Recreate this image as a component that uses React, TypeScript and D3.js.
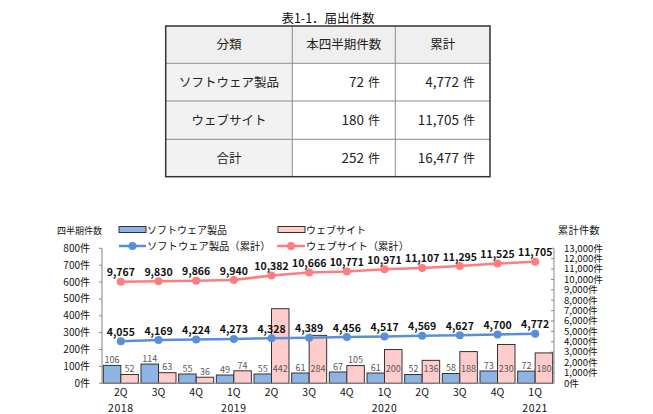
import React from 'react';
import * as d3 from 'd3';

// table data
const tableHeaders = ['分類', '本四半期件数', '累計'];
const tableRows = ['ソフトウェア製品', 'ウェブサイト', '合計'];
const tableQuarter = ['72', '180', '252'];
const tableTotal = ['4,772', '11,705', '16,477'];

// chart data
const quarters = ['2Q', '3Q', '4Q', '1Q', '2Q', '3Q', '4Q', '1Q', '2Q', '3Q', '4Q', '1Q'];
const years = ['2018', '', '', '2019', '', '', '', '2020', '', '', '', '2021'];
const softwareQ = [106, 114, 55, 49, 55, 61, 67, 61, 52, 58, 73, 72];
const websiteQ = [52, 63, 36, 74, 442, 284, 105, 200, 136, 188, 230, 180];
const softwareCum = [4055, 4169, 4224, 4273, 4328, 4389, 4456, 4517, 4569, 4627, 4700, 4772];
const websiteCum = [9767, 9830, 9866, 9940, 10382, 10666, 10771, 10971, 11107, 11295, 11525, 11705];
const leftTicks = [0, 100, 200, 300, 400, 500, 600, 700, 800];
const rightTicks = d3.range(0, 13001, 1000);

const JP = '"Noto Sans CJK JP", "Noto Sans", sans-serif';
const BLUE_BAR = '#8EB4E3';
const PINK_BAR = '#FFCCCC';
const BLUE_LINE = '#5A8FD8';
const PINK_LINE = '#FF7C80';

const fmt = d3.format(',');

const App: React.FC = () => {
  const width = 653;
  const height = 414;
  const plot = { left: 102, right: 554, top: 248.3, bottom: 383.3 };

  const idx = quarters.map((_, i) => String(i));
  const x = d3.scaleBand().domain(idx).range([plot.left, plot.right]).padding(0);
  const xSub = d3.scaleBand().domain(['sw', 'web']).range([0, x.bandwidth()]).paddingInner(0).paddingOuter(0.076);
  const yL = d3.scaleLinear().domain([0, 800]).range([plot.bottom, plot.top]);
  const yR = d3.scaleLinear().domain([0, 13000]).range([plot.bottom, plot.top]);

  const lineGen = (vals: number[]) =>
    d3.line<number>()
      .x((_, i) => (x(String(i)) || 0) + x.bandwidth() / 2)
      .y(d => yR(d))(vals) || '';

  // table geometry
  const tX = [165.7, 292.3, 395.3, 490];
  const tY = [26, 63.3, 101, 139.3, 176.7];

  // short bars: label just above the bar; tall bars: label sits inside near the base
  const barLabelY = (v: number) => {
    const above = yL(v) - 5.5;
    return (above >= 357 ? above : 369) + 3.2;
  };

  return (
    <svg width={width} height={height} style={{ position: 'absolute', left: 0, top: 0, background: '#fff' }}
      fontFamily={JP}>
      {/* table */}
      <text x={328} y={23} textAnchor="middle" fontSize={12.5} fill="#111">表1-1．届出件数</text>
      <rect x={tX[0]} y={tY[0]} width={tX[3] - tX[0]} height={tY[1] - tY[0]} fill="#EFEFEF" />
      {tableRows.map((_, r) => (
        <rect key={'bg' + r} x={tX[0]} y={tY[r + 1]} width={tX[1] - tX[0]} height={tY[r + 2] - tY[r + 1]} fill="#F2F2F2" />
      ))}
      {tY.slice(1, 4).map((y, i) => (
        <line key={'hl' + i} x1={tX[0]} x2={tX[3]} y1={y} y2={y} stroke="#8C8C8C" strokeWidth={1} />
      ))}
      {tX.slice(1, 3).map((xx, i) => (
        <line key={'vl' + i} x1={xx} x2={xx} y1={tY[0]} y2={tY[4]} stroke="#8C8C8C" strokeWidth={1} />
      ))}
      <rect x={tX[0]} y={tY[0]} width={tX[3] - tX[0]} height={tY[4] - tY[0]} fill="none" stroke="#333" strokeWidth={1.5} />
      {tableHeaders.map((h, i) => (
        <text key={'th' + i} x={(tX[i] + tX[i + 1]) / 2} y={(tY[0] + tY[1]) / 2 + 4.5} textAnchor="middle" fontSize={12.5} fill="#222">{h}</text>
      ))}
      {tableRows.map((r, i) => {
        const cy = (tY[i + 1] + tY[i + 2]) / 2 + 5;
        return (
          <g key={'tr' + i}>
            <text x={(tX[0] + tX[1]) / 2} y={cy} textAnchor="middle" fontSize={12.5} fill="#222">{r}</text>
            <text x={380} y={cy} textAnchor="end" fontSize={13.5} fill="#222">
              {tableQuarter[i]}<tspan fontSize={12} dx={4}>件</tspan>
            </text>
            <text x={475} y={cy} textAnchor="end" fontSize={13.5} fill="#222">
              {tableTotal[i]}<tspan fontSize={12} dx={4}>件</tspan>
            </text>
          </g>
        );
      })}

      {/* axis titles */}
      <text x={57} y={233.5} fontSize={9} fill="#111">四半期件数</text>
      <text x={558} y={234} fontSize={10} fill="#111" letterSpacing={0.5}>累計件数</text>

      {/* legend */}
      <rect x={119} y={226.5} width={27} height={6} fill={BLUE_BAR} stroke="#333" strokeWidth={1} />
      <text x={147} y={233.5} fontSize={10} fill="#111">ソフトウェア製品</text>
      <rect x={278} y={226.5} width={27} height={6} fill={PINK_BAR} stroke="#333" strokeWidth={1} />
      <text x={306} y={233.5} fontSize={10} fill="#111">ウェブサイト</text>
      <line x1={119} x2={146} y1={246} y2={246} stroke={BLUE_LINE} strokeWidth={2.5} />
      <circle cx={132.5} cy={246} r={4} fill={BLUE_LINE} />
      <text x={147} y={249.5} fontSize={10.3} fill="#111">ソフトウェア製品（累計）</text>
      <line x1={277} x2={305} y1={246} y2={246} stroke={PINK_LINE} strokeWidth={2.5} />
      <circle cx={291} cy={246} r={4} fill={PINK_LINE} />
      <text x={306} y={249.5} fontSize={10.3} fill="#111">ウェブサイト（累計）</text>

      {/* left axis */}
      <line x1={plot.left} x2={plot.left} y1={plot.top} y2={plot.bottom} stroke="#888" />
      {leftTicks.map(t => (
        <g key={'lt' + t}>
          <line x1={plot.left - 3} x2={plot.left} y1={yL(t)} y2={yL(t)} stroke="#888" />
          <text x={90} y={yL(t) + 3.5} textAnchor="end" fontSize={10} fill="#111">{t}件</text>
        </g>
      ))}
      {/* right axis */}
      <line x1={plot.right} x2={plot.right} y1={plot.top} y2={plot.bottom} stroke="#888" />
      {rightTicks.map(t => (
        <g key={'rt' + t}>
          <line x1={plot.right - 3} x2={plot.right} y1={yR(t)} y2={yR(t)} stroke="#888" />
          <text x={564} y={yR(t) + 3.3} fontSize={9.6} fill="#111">{fmt(t)}件</text>
        </g>
      ))}

      {/* bars */}
      {quarters.map((_, i) => {
        const x0 = x(String(i)) || 0;
        const xs = x0 + (xSub('sw') || 0);
        const xw = x0 + (xSub('web') || 0);
        const bw = xSub.bandwidth();
        return (
          <g key={'bar' + i}>
            <rect x={xs} y={yL(softwareQ[i])} width={bw} height={plot.bottom - yL(softwareQ[i])} fill={BLUE_BAR} stroke="#333" strokeWidth={1} />
            <rect x={xw} y={yL(websiteQ[i])} width={bw} height={plot.bottom - yL(websiteQ[i])} fill={PINK_BAR} stroke="#333" strokeWidth={1} />
            <text x={xs + bw / 2} y={barLabelY(softwareQ[i])} textAnchor="middle" fontSize={9} fill="#595959">{softwareQ[i]}</text>
            <text x={xw + bw / 2} y={barLabelY(websiteQ[i])} textAnchor="middle" fontSize={9} fill="#595959">{websiteQ[i]}</text>
          </g>
        );
      })}

      {/* x axis */}
      <line x1={plot.left} x2={plot.right} y1={plot.bottom} y2={plot.bottom} stroke="#888" />
      {quarters.map((q, i) => {
        const cx = (x(String(i)) || 0) + x.bandwidth() / 2;
        return (
          <g key={'xl' + i}>
            <text x={cx} y={395.5} textAnchor="middle" fontSize={10.5} fill="#111">{q}</text>
            {years[i] && <text x={cx} y={411.5} textAnchor="middle" fontSize={10.5} fill="#111" letterSpacing={0.6}>{years[i]}</text>}
          </g>
        );
      })}

      {/* lines */}
      {[{ vals: websiteCum, c: PINK_LINE }, { vals: softwareCum, c: BLUE_LINE }].map((s, k) => (
        <g key={'ln' + k}>
          <path d={lineGen(s.vals)} fill="none" stroke={s.c} strokeWidth={2.5} />
          {s.vals.map((v, i) => {
            const cx = (x(String(i)) || 0) + x.bandwidth() / 2;
            return (
              <g key={i}>
                <circle cx={cx} cy={yR(v)} r={4} fill={s.c} />
                <text x={cx} y={yR(v) - 5.5} textAnchor="middle" fontSize={10.5} fontWeight="bold" fill="#111">{fmt(v)}</text>
              </g>
            );
          })}
        </g>
      ))}
    </svg>
  );
};

export default App;
